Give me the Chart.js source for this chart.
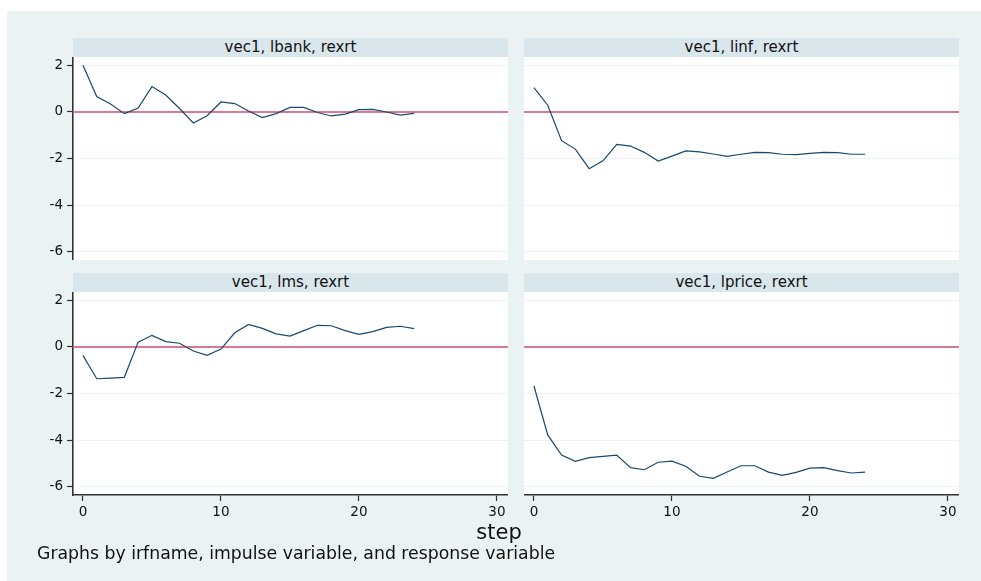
<!DOCTYPE html>
<html>
<head>
<meta charset="utf-8">
<script src="https://cdn.jsdelivr.net/npm/chart.js@4.4.1/dist/chart.umd.min.js"></script>
<style>
  html, body { margin: 0; padding: 0; background: #ffffff; }
  body { width: 981px; height: 581px; position: relative; overflow: hidden; font-family: "DejaVu Sans", sans-serif; }
  #bg { position: absolute; left: 7px; top: 11px; width: 974px; height: 570px; background: #eaf2f3; }
  .strip { position: absolute; height: 19px; width: 435px; background: #d9e6eb; color: #111; font-size: 15px; line-height: 19px; text-align: center; }
  .panel { position: absolute; }
  #xtitle { position: absolute; left: 399px; width: 200px; top: 520px; text-align: center; font-size: 21px; color: #111; }
  #note { position: absolute; left: 37px; top: 543px; font-size: 17.3px; color: #111; white-space: nowrap; }
</style>
</head>
<body>
<div id="bg"></div>

<div class="strip" style="left:73px; top:38px;">vec1, lbank, rexrt</div>
<div class="strip" style="left:524px; top:38px;">vec1, linf, rexrt</div>
<div class="strip" style="left:73px; top:273px;">vec1, lms, rexrt</div>
<div class="strip" style="left:524px; top:273px;">vec1, lprice, rexrt</div>

<div class="panel" style="left:20px; top:57px; width:488px; height:203px;"><canvas id="c1"></canvas></div>
<div class="panel" style="left:524px; top:57px; width:435px; height:203px;"><canvas id="c2"></canvas></div>
<div class="panel" style="left:20px; top:292px; width:488px; height:233px;"><canvas id="c3"></canvas></div>
<div class="panel" style="left:524px; top:292px; width:435px; height:233px;"><canvas id="c4"></canvas></div>

<div id="xtitle">step</div>
<div id="note">Graphs by irfname, impulse variable, and response variable</div>

<script>
// forecast horizon
const steps = [0, 1, 2, 3, 4, 5, 6, 7, 8, 9, 10, 11, 12, 13, 14, 15, 16, 17, 18, 19, 20, 21, 22, 23, 24];

// irf of rexrt to each impulse
const lbank = [2.0, 0.66, 0.34, -0.07, 0.17, 1.09, 0.73, 0.15, -0.47, -0.16, 0.43, 0.36, 0.04, -0.24, -0.07, 0.2, 0.2, -0.02, -0.17, -0.09, 0.1, 0.11, 0.0, -0.13, -0.06];
const linf = [1.04, 0.29, -1.23, -1.59, -2.43, -2.09, -1.39, -1.46, -1.73, -2.1, -1.89, -1.67, -1.71, -1.8, -1.9, -1.81, -1.73, -1.74, -1.81, -1.83, -1.77, -1.73, -1.74, -1.81, -1.81];
const lms = [-0.36, -1.36, -1.33, -1.3, 0.21, 0.5, 0.23, 0.16, -0.17, -0.36, -0.09, 0.61, 0.97, 0.8, 0.56, 0.47, 0.7, 0.93, 0.91, 0.7, 0.54, 0.66, 0.84, 0.89, 0.79];
const lprice = [-1.67, -3.77, -4.63, -4.9, -4.74, -4.69, -4.63, -5.17, -5.26, -4.94, -4.89, -5.11, -5.54, -5.63, -5.36, -5.09, -5.09, -5.36, -5.5, -5.37, -5.19, -5.17, -5.3, -5.4, -5.36];

const yTicks = [-6, -4, -2, 0, 2];
const xTicks = [0, 10, 20, 30];

const tickFont = { family: "DejaVu Sans", size: 13.5 };

// white plot region + red reference line at zero
const plotRegion = {
  id: "plotRegion",
  beforeDraw(chart) {
    const { ctx, chartArea } = chart;
    ctx.save();
    ctx.fillStyle = "#ffffff";
    ctx.fillRect(chartArea.left, chartArea.top, chartArea.right - chartArea.left, chartArea.bottom - chartArea.top);
    ctx.restore();
  },
  beforeDatasetsDraw(chart) {
    const { ctx, chartArea } = chart;
    const y0 = chart.scales.y.getPixelForValue(0);
    ctx.save();
    ctx.strokeStyle = "#d97a93";
    ctx.lineWidth = 2;
    ctx.beginPath();
    ctx.moveTo(chartArea.left, y0);
    ctx.lineTo(chartArea.right, y0);
    ctx.stroke();
    ctx.restore();
  },
};

function makePanel(id, values, showY, showX) {
  const canvas = document.getElementById(id);
  const points = steps.map((s, i) => ({ x: s, y: values[i] }));
  return new Chart(canvas, {
    type: "line",
    data: {
      datasets: [{
        data: points,
        borderColor: "#1a476f",
        borderWidth: 1.2,
        pointRadius: 0,
        tension: 0,
        fill: false,
      }],
    },
    options: {
      responsive: true,
      maintainAspectRatio: false,
      animation: false,
      events: [],
      layout: { padding: 0 },
      plugins: { legend: { display: false }, tooltip: { enabled: false } },
      scales: {
        x: {
          type: "linear",
          display: showX,
          min: -0.72,
          max: 30.8,
          afterBuildTicks: (s) => { s.ticks = xTicks.map((v) => ({ value: v })); },
          afterFit: (s) => { s.height = showX ? 30 : 0; s.paddingLeft = 0; s.paddingRight = 0; },
          grid: { drawOnChartArea: false, drawTicks: true, tickLength: 6, tickColor: "#333333", tickWidth: 1.2 },
          border: { display: true, color: "#333333", width: 1.6 },
          ticks: { font: tickFont, color: "#111111", padding: 3, maxRotation: 0 },
        },
        y: {
          type: "linear",
          min: -6.343,
          max: 2.357,
          afterBuildTicks: (s) => { s.ticks = yTicks.map((v) => ({ value: v })); },
          afterFit: (s) => { s.width = showY ? 53 : 0; s.paddingTop = 0; s.paddingBottom = 0; },
          grid: { color: "#eaf2f3", lineWidth: 1, drawTicks: showY, tickLength: 6, tickColor: "#333333", tickWidth: 1.2 },
          border: { display: showY, color: "#333333", width: 1.6 },
          ticks: { display: showY, font: tickFont, color: "#111111", padding: 4 },
        },
      },
    },
    plugins: [plotRegion],
  });
}

makePanel("c1", lbank, true, false);
makePanel("c2", linf, false, false);
makePanel("c3", lms, true, true);
makePanel("c4", lprice, false, true);
</script>
</body>
</html>
